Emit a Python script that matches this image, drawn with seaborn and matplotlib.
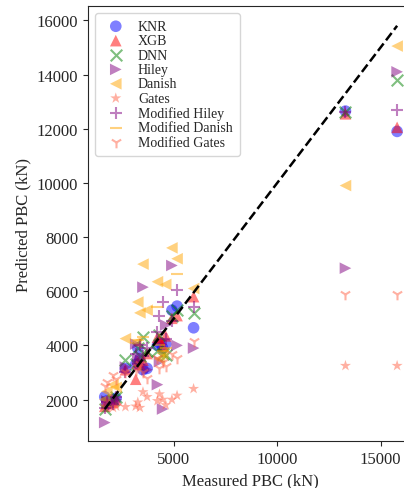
import numpy as np
import pandas as pd
import matplotlib
matplotlib.use("Agg")
import matplotlib.pyplot as plt
import seaborn as sns

sns.set_style("ticks")
plt.rcParams['font.family'] = ['Liberation Serif', 'DejaVu Serif']

measured = [1650, 1750, 2050, 2200, 2650, 3150, 3250, 3350, 3500, 3700,
            4200, 4300, 4450, 4600, 4900, 5150, 5950, 13300, 15800]

knr = [2100, 1950, 2000, 2050, 3150, 3300, 3900, 3500, 3100, 3150,
       4000, 4100, 3900, 4050, 5300, 5450, 4650, 12650, 11900]
xgb = [1750, 1850, 1900, 2000, 3100, 2750, 3400, 3300, 3450, 3700,
       4300, 4250, 4000, 4350, 5000, 5100, 5800, 12550, 12050]
dnn = [1650, 1900, 2000, 2100, 3450, 3300, 3900, 3600, 4300, 3800,
       3800, 4400, 3700, 3650, 5100, 5300, 5200, 12600, 13800]
hiley = [1150, 1950, 1800, 2000, 3200, 4050, 3500, 3300, 6150, 3100,
         2550, 3400, 1650, 4750, 6950, 4000, 3900, 6850, 14100]
danish = [2000, 2300, 2550, 2450, 4250, 4100, 5600, 5200, 7000, 5300,
          6350, 3500, 3700, 6250, 7600, 7200, 6100, 9900, 15050]
gates = [1750, 1850, 1700, 1750, 1730, 1750, 1900, 1700, 2280, 2100,
         1950, 2200, 2000, 1800, 2000, 2150, 2400, 3250, 3250]
mod_hiley = [1700, 1900, 1850, 2100, 3000, 3700, 3300, 4000, 3600, 3900,
             4500, 5100, 5600, 4250, 4900, 6050, 5400, 12600, 12700]
mod_danish = [np.nan, np.nan, np.nan, np.nan, np.nan, np.nan, 4200, np.nan, 4300, np.nan,
              5400, 4000, 3800, 3900, np.nan, 6650, np.nan, np.nan, np.nan]
mod_gates = [2500, 2650, 2900, 2750, 3000, 3100, 3200, 3300, 3000, 2800,
             3550, 3150, 3400, 3250, 3700, 3550, 4150, 5900, 5900]

models = ["KNR", "XGB", "DNN", "Hiley", "Danish", "Gates",
          "Modified Hiley", "Modified Danish", "Modified Gates"]
preds = [knr, xgb, dnn, hiley, danish, gates, mod_hiley, mod_danish, mod_gates]
markers = ["o", "^", "x", ">", "<", "*", "+", "_", "1"]
colors = ["blue", "red", "green", "purple", "orange", "tomato",
          "purple", "orange", "tomato"]

fig = plt.figure(figsize=(4.04, 4.89), dpi=100)
ax = fig.add_axes([88/404, 47/489, 324/404, 435/489])

for name, p, m, c in zip(models, preds, markers, colors):
    df = pd.DataFrame({"Measured": measured, "Predicted": p}).dropna()
    kw = dict(marker=m, color=c, alpha=0.5, s=70, label=name, ax=ax)
    if m in ("x", "+", "_", "1"):
        kw["linewidth"] = 1.5
    else:
        kw["edgecolor"] = "none"
    sns.scatterplot(data=df, x="Measured", y="Predicted", **kw)

lo, hi = min(measured), max(measured)
ax.plot([lo, hi], [lo, hi], color="black", linestyle="--", linewidth=1.8)

ax.set_xlim(840, 16520)
ax.set_ylim(470, 16530)
ax.set_xticks([5000, 10000, 15000])
ax.set_yticks([2000, 4000, 6000, 8000, 10000, 12000, 14000, 16000])
ax.tick_params(labelsize=12)
ax.set_xlabel("Measured PBC (kN)", fontsize=12)
ax.set_ylabel("Predicted PBC (kN)", fontsize=12)
ax.legend(loc="upper left", fontsize=10, handletextpad=0.6, borderpad=0.5,
          labelspacing=0.1, frameon=True)

fig.savefig("out.png", dpi=100)
